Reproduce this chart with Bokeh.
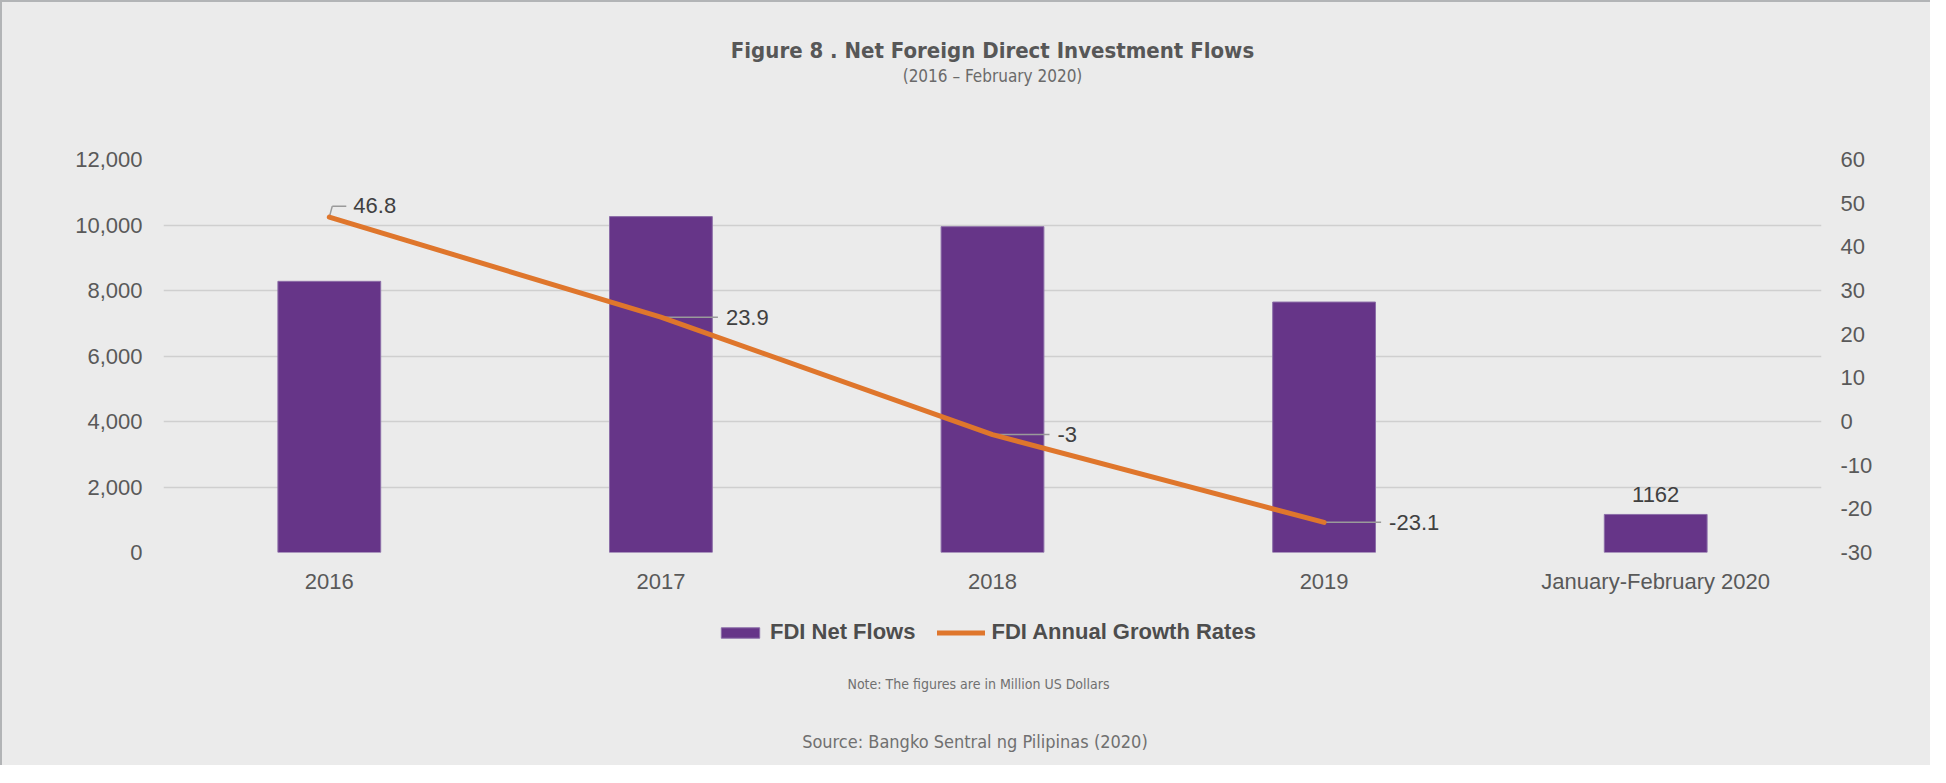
from bokeh.plotting import figure
from bokeh.layouts import column
from bokeh.models import (ColumnDataSource, Range1d, LinearAxis, FixedTicker, NumeralTickFormatter,
                          LabelSet, Label, Legend, LegendItem, Title)
from bokeh.transform import dodge
from bokeh.core.properties import value
from bokeh.embed import file_html
from bokeh.resources import INLINE

# ---- data ----
categories = ["2016", "2017", "2018", "2019", "January-February 2020"]
net_flows = [8280, 10256, 9949, 7647, 1162]
growth_years = ["2016", "2017", "2018", "2019"]
growth_rates = [46.8, 23.9, -3.0, -23.1]
growth_labels = ["46.8", "23.9", "-3", "-23.1"]
left_ticks = [0, 2000, 4000, 6000, 8000, 10000, 12000]
right_ticks = [-30, -20, -10, 0, 10, 20, 30, 40, 50, 60]
right_tick_labels = ["-30", "-20", "-10", "0", "10", "20", "30", "40", "50", "60"]

# ---- styles ----
BG = "#EBEBEB"
PURPLE = "#663588"
ORANGE = "#DF762C"
TXT = "#595959"
DARK = "#404040"
FONT = "Liberation Sans"
NARROW = "'DejaVu Sans Condensed', sans-serif"

W = 1930
LEFT, TOP = 163, 157
FW, FH = 1658, 393
cat_px = FW / len(categories)          # pixels per category
g_px = (right_ticks[-1] - right_ticks[0]) / FH   # growth units per pixel

p = figure(x_range=categories, y_range=Range1d(left_ticks[0], left_ticks[-1]),
           frame_width=FW, frame_height=FH,
           min_border_left=LEFT - 2, min_border_right=W - LEFT - FW, min_border_top=TOP, min_border_bottom=48,
           output_backend="svg", toolbar_location=None,
           background_fill_color=BG, border_fill_color=BG, outline_line_color=None)
p.extra_y_ranges = {"growth": Range1d(right_ticks[0], right_ticks[-1])}

bar_src = ColumnDataSource(dict(x=categories, y=net_flows,
                                lbl=["" for _ in net_flows[:-1]] + [str(net_flows[-1])]))
bars = p.vbar(x="x", top="y", width=0.31, source=bar_src,
              fill_color=PURPLE, line_color="#8C6EA8", line_width=1)

line_src = ColumnDataSource(dict(x=growth_years, y=growth_rates, lbl=growth_labels,
                                 xo=[24, 65, 65, 65], yo=[12, 0, 0, 0]))

# leader lines
lead_len = 57 / cat_px
seg_src = ColumnDataSource(dict(x=growth_years[1:], y=growth_rates[1:]))
p.segment(x0="x", y0="y", x1=dodge("x", lead_len, range=p.x_range), y1="y",
          source=seg_src, y_range_name="growth", line_color="#9A9A9A", line_width=1.5)
first = ColumnDataSource(dict(x=[growth_years[0]], y=[growth_rates[0]],
                              y2=[growth_rates[0] + 11 * g_px]))
p.segment(x0="x", y0="y", x1=dodge("x", 3 / cat_px, range=p.x_range), y1="y2",
          source=first, y_range_name="growth", line_color="#9A9A9A", line_width=1.5)
p.segment(x0=dodge("x", 3 / cat_px, range=p.x_range), y0="y2",
          x1=dodge("x", 17 / cat_px, range=p.x_range), y1="y2",
          source=first, y_range_name="growth", line_color="#9A9A9A", line_width=1.5)

line = p.line(x="x", y="y", source=line_src, y_range_name="growth",
              line_color=ORANGE, line_width=5, line_cap="round", line_join="round")

p.add_layout(LabelSet(x="x", y="y", text="lbl", source=line_src, y_range_name="growth",
                      x_offset="xo", y_offset="yo", text_baseline="middle", text_align="left",
                      text_font=value(FONT), text_font_size="22px", text_color=DARK))
p.add_layout(LabelSet(x="x", y="y", text="lbl", source=bar_src, y_offset=12,
                      text_baseline="bottom", text_align="center",
                      text_font=value(FONT), text_font_size="22px", text_color=DARK))

# axes
p.yaxis.ticker = FixedTicker(ticks=left_ticks)
p.yaxis.formatter = NumeralTickFormatter(format="0,0")
ra = LinearAxis(y_range_name="growth", ticker=FixedTicker(ticks=right_ticks))
ra.major_label_overrides = dict(zip(right_ticks, right_tick_labels))
p.add_layout(ra, "right")
for ax in [p.yaxis[0], ra, p.xaxis[0]]:
    ax.axis_line_color = None
    ax.major_tick_line_color = None
    ax.minor_tick_line_color = None
    ax.major_tick_in = 0
    ax.major_tick_out = 0
    ax.minor_tick_in = 0
    ax.minor_tick_out = 0
    ax.major_label_text_font = FONT
    ax.major_label_text_font_size = "22px"
    ax.major_label_text_color = TXT
p.yaxis[0].major_label_standoff = 21
ra.major_label_standoff = 19
p.xaxis[0].major_label_standoff = 16

p.xgrid.grid_line_color = None
p.ygrid.grid_line_color = "#CFCFCF"
p.ygrid.grid_line_width = 1.5
p.ygrid.ticker = FixedTicker(ticks=left_ticks)

# header (stacked outward from the frame)
p.add_layout(Title(text=" ", text_font_size="1px", standoff=71), "above")
p.add_layout(Title(text="(2016 \u2013 February 2020)", align="center", text_font=NARROW,
                   text_font_style="normal", text_font_size="17px", text_color="#6A6A6A",
                   standoff=0), "above")
p.add_layout(Title(text="Figure 8 . Net Foreign Direct Investment Flows", align="center",
                   text_font=NARROW, text_font_style="bold", text_font_size="22px",
                   text_color="#575757", standoff=2), "above")

# footer: legend, note and source (x in page pixels, y measured up from the footer bottom)
FH2 = 765 - 600
foot = figure(frame_width=FW, frame_height=FH2, x_range=Range1d(LEFT, LEFT + FW), y_range=Range1d(0, FH2),
              x_axis_type=None, y_axis_type=None,
              min_border_left=LEFT - 2, min_border_right=W - LEFT - FW, min_border_top=0, min_border_bottom=0,
              output_backend="svg", toolbar_location=None,
              background_fill_color=BG, border_fill_color=BG, outline_line_color=None)
foot.xgrid.grid_line_color = None
foot.ygrid.grid_line_color = None
# legend proxies (lie outside the visible ranges; only their legend swatches show)
proxy_bar = foot.vbar(x=[-100], top=[-100], width=1, fill_color=PURPLE, line_color="#8C6EA8", line_width=1)
proxy_line = foot.line(x=[-100, -90], y=[-100, -100], line_color=ORANGE, line_width=5, line_cap="round")
legend = Legend(items=[LegendItem(label="FDI Net Flows", renderers=[proxy_bar]),
                       LegendItem(label="FDI Annual Growth Rates", renderers=[proxy_line])],
                orientation="horizontal", location=(716 - LEFT, 120),
                background_fill_alpha=0, border_line_color=None, padding=0, margin=0,
                spacing=22, label_standoff=6, glyph_width=48, glyph_height=13,
                label_text_font=FONT, label_text_font_size="22px",
                label_text_font_style="bold", label_text_color="#4D4D4D")
foot.add_layout(legend)
foot.add_layout(Label(x=978, y=765 - 683, text="Note: The figures are in Million US Dollars",
                      text_align="center", text_baseline="middle", text_font=NARROW,
                      text_font_size="14px", text_color="#707070"))
foot.add_layout(Label(x=977, y=765 - 741, text="Source: Bangko Sentral ng Pilipinas  (2020)",
                      text_align="center", text_baseline="middle", text_font=NARROW,
                      text_font_size="18px", text_color="#707070"))

layout = column(p, foot, spacing=0,
                styles={"background-color": BG,
                        "border-top": "2px solid #B2B4B6",
                        "border-left": "2px solid #B2B4B6"})
open("out.html", "w").write(file_html(layout, INLINE))
